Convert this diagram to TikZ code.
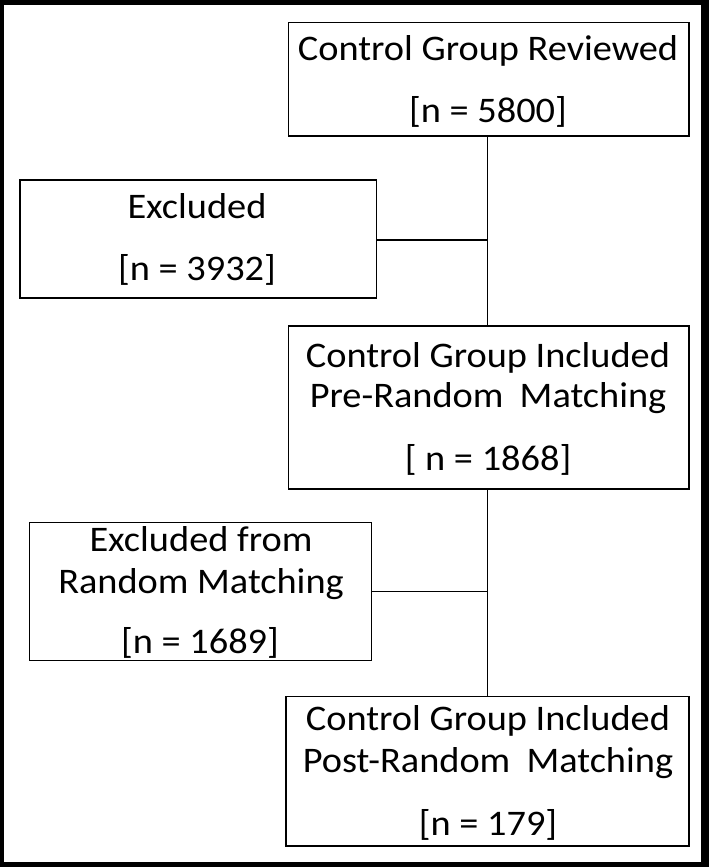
\documentclass[tikz,border=0pt]{standalone}
\usepackage{fontspec}
\setmainfont{Carlito}[FakeStretch=1.065]
\begin{document}
\begin{tikzpicture}[x=1pt,y=-1pt,
  box/.style={draw=black,line width=1.6pt,inner sep=0pt,rectangle},
  txt/.style={anchor=base,inner sep=0pt,font=\fontsize{36}{40}\selectfont,text=black},
  conn/.style={draw=black,line width=1.6pt}]
% outer frame
\fill[black] (0,0) rectangle (709,867);
\fill[white] (4,5) rectangle (701,862);
\useasboundingbox (0,0) rectangle (709,867);
% boxes
\node[box,minimum width=400.5pt,minimum height=113.3pt] (b1) at (488.75,79.35) {};
\node[box,minimum width=356.5pt,minimum height=118pt] (ex1) at (198.25,239) {};
\node[box,minimum width=400.5pt,minimum height=163pt] (b2) at (488.75,407.5) {};
\node[box,minimum width=342pt,minimum height=138pt] (ex2) at (200.5,591.5) {};
\node[box,minimum width=403pt,minimum height=149.5pt] (b3) at (487.5,771.25) {};
% texts
\node[txt] (t11) at (488,60) {Control Group Reviewed};
\node[txt] (t12) at (488,122) {[n = 5800]};
\node[txt] (t21) at (197,218) {Excluded};
\node[txt] (t22) at (197,280) {[n = 3932]};
\node[txt] (t31) at (488,367) {Control Group Included};
\node[txt] (t32) at (488,407) {Pre-Random\hspace{0.45em}Matching};
\node[txt] (t33) at (488,470) {[ n = 1868]};
\node[txt] (t41) at (201,551) {Excluded from};
\node[txt] (t42) at (201,593) {Random Matching};
\node[txt] (t43) at (200,653) {[n = 1689]};
\node[txt] (t51) at (488,730) {Control Group Included};
\node[txt] (t52) at (488,772) {Post-Random\hspace{0.45em}Matching};
\node[txt] (t53) at (488,835) {[n = 179]};
% connectors
\coordinate (j1) at (487.5,240);
\coordinate (j2) at (487.5,591.5);
\draw[conn] (b1.south -| j1) -- (b2.north -| j1);
\draw[conn] (ex1.east |- j1) -- (j1);
\draw[conn] (b2.south -| j2) -- (b3.north -| j2);
\draw[conn] (ex2.east |- j2) -- (j2);
\end{tikzpicture}
\end{document}
